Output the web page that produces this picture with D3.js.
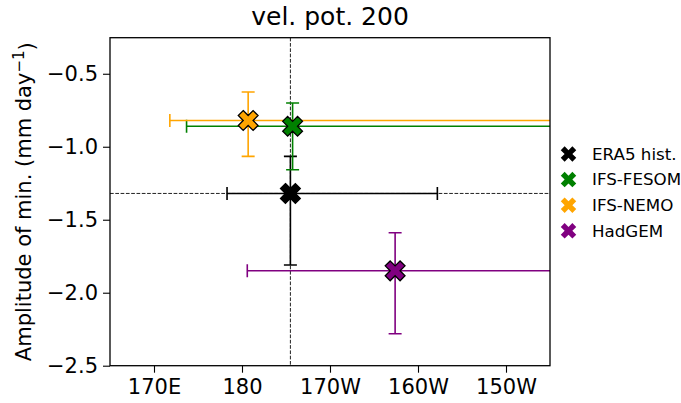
<!DOCTYPE html>
<html>
<head>
<meta charset="utf-8">
<script src="https://cdn.jsdelivr.net/npm/d3@7"></script>
<style>
  body { margin: 0; background: #fff; }
  text { font-family: "DejaVu Sans", sans-serif; fill: #000; }
</style>
</head>
<body>
<script>
// data (longitude in 0..360 degrees east)
var models = ["ERA5 hist.", "IFS-FESOM", "IFS-NEMO", "HadGEM"];
var colors = ["black", "green", "orange", "purple"];
var lon = [185.5, 185.75, 180.7, 197.4];
var amp = [-1.32, -0.86, -0.82, -1.85];
var lonLo = [178.3, 173.7, 171.8, 180.6];
var lonHi = [202.2, 225, 225, 225];
var ampLo = [-1.81, -1.158, -1.066, -2.281];
var ampHi = [-1.066, -0.70, -0.625, -1.589];
var xTicks = [170, 180, 190, 200, 210];
var xTickLabels = ["170E", "180", "170W", "160W", "150W"];
var yTicks = [-2.5, -2.0, -1.5, -1.0, -0.5];

var W = 681, H = 403;
var margin = {top: 37.7, left: 110, right: 131, bottom: 37.3};
var width = W - margin.left - margin.right,
    height = H - margin.top - margin.bottom;

var svg = d3.select("body").append("svg")
    .attr("width", W)
    .attr("height", H);

var x = d3.scaleLinear().domain([165, 215]).range([0, width]);
var y = d3.scaleLinear().domain([-2.5, -0.253]).range([height, 0]);

svg.append("defs").append("clipPath")
    .attr("id", "clip")
    .append("rect")
    .attr("width", width)
    .attr("height", height);

var chart = svg.append("g")
    .attr("transform", "translate(" + margin.left + "," + margin.top + ")");

var plot = chart.append("g").attr("clip-path", "url(#clip)");

// reference dashed lines through ERA5
plot.append("line")
    .attr("x1", x(lon[0])).attr("x2", x(lon[0]))
    .attr("y1", 0).attr("y2", height)
    .attr("stroke", "#222").attr("stroke-width", 1)
    .attr("stroke-dasharray", "3.7,1.6");
plot.append("line")
    .attr("x1", 0).attr("x2", width)
    .attr("y1", y(amp[0])).attr("y2", y(amp[0]))
    .attr("stroke", "#222").attr("stroke-width", 1)
    .attr("stroke-dasharray", "3.7,1.6");

// error bars
var cap = 6.5;
models.forEach(function (m, i) {
    var g = plot.append("g")
        .attr("stroke", colors[i])
        .attr("stroke-width", 1.6)
        .attr("fill", "none");
    g.append("line")
        .attr("x1", x(lonLo[i])).attr("x2", x(lonHi[i]))
        .attr("y1", y(amp[i])).attr("y2", y(amp[i]));
    g.append("line")
        .attr("x1", x(lon[i])).attr("x2", x(lon[i]))
        .attr("y1", y(ampLo[i])).attr("y2", y(ampHi[i]));
    [lonLo[i], lonHi[i]].forEach(function (v) {
        g.append("line")
            .attr("x1", x(v)).attr("x2", x(v))
            .attr("y1", y(amp[i]) - cap).attr("y2", y(amp[i]) + cap);
    });
    [ampLo[i], ampHi[i]].forEach(function (v) {
        g.append("line")
            .attr("x1", x(lon[i]) - cap).attr("x2", x(lon[i]) + cap)
            .attr("y1", y(v)).attr("y2", y(v));
    });
});

// filled X markers
var bigX = d3.symbol().type(d3.symbolCross).size(245);
var smallX = d3.symbol().type(d3.symbolCross).size(150);

plot.selectAll(".marker")
    .data(models)
    .enter()
    .append("path")
    .attr("class", "marker")
    .attr("d", bigX)
    .attr("transform", function (d, i) {
        return "translate(" + x(lon[i]) + "," + y(amp[i]) + ") rotate(45)";
    })
    .attr("fill", function (d, i) { return colors[i]; })
    .attr("stroke", "black")
    .attr("stroke-width", 1.3)
    .attr("stroke-linejoin", "miter");

// axes
var xAxis = d3.axisBottom(x)
    .tickValues(xTicks)
    .tickFormat(function (d, i) { return xTickLabels[i]; })
    .tickSize(7)
    .tickPadding(5);
var yAxis = d3.axisLeft(y)
    .tickValues(yTicks)
    .tickFormat(d3.format(".1f"))
    .tickSize(7)
    .tickPadding(5);

var gx = chart.append("g")
    .attr("transform", "translate(0," + height + ")")
    .call(xAxis);
var gy = chart.append("g").call(yAxis);

[gx, gy].forEach(function (g) {
    g.select(".domain").remove();
    g.selectAll(".tick line").attr("stroke", "#000").attr("stroke-width", 1.1);
    g.selectAll(".tick text")
        .style("font-family", "DejaVu Sans, sans-serif")
        .style("font-size", "21px")
        .attr("fill", "#262626");
});
gx.selectAll(".tick text").attr("dy", "0.76em");

// frame
chart.append("rect")
    .attr("width", width)
    .attr("height", height)
    .attr("fill", "none")
    .attr("stroke", "#000")
    .attr("stroke-width", 1.3);

// title and label
svg.append("text")
    .attr("x", margin.left + width / 2)
    .attr("y", 25)
    .attr("text-anchor", "middle")
    .style("font-size", "25px")
    .attr("fill", "#111")
    .text("vel. pot. 200");

var ylab = svg.append("text")
    .attr("transform", "translate(31," + (margin.top + height / 2) + ") rotate(-90)")
    .attr("text-anchor", "middle")
    .style("font-size", "21px")
    .attr("fill", "#262626");
ylab.append("tspan").text("Amplitude of min. (mm day");
ylab.append("tspan").attr("dy", "-0.45em").style("font-size", "15px").text("\u22121");
ylab.append("tspan").attr("dy", "0.45em").text(")");

// legend
var legend = svg.append("g")
    .attr("transform", "translate(568.5,154)");
models.forEach(function (m, i) {
    var row = legend.append("g")
        .attr("transform", "translate(0," + (i * 25.6) + ")");
    row.append("path")
        .attr("d", smallX)
        .attr("transform", "rotate(45)")
        .attr("fill", colors[i]);
    row.append("text")
        .attr("x", 23.5)
        .attr("dy", "0.35em")
        .style("font-size", "16.7px")
        .attr("fill", "#262626")
        .text(m);
});
</script>
</body>
</html>
